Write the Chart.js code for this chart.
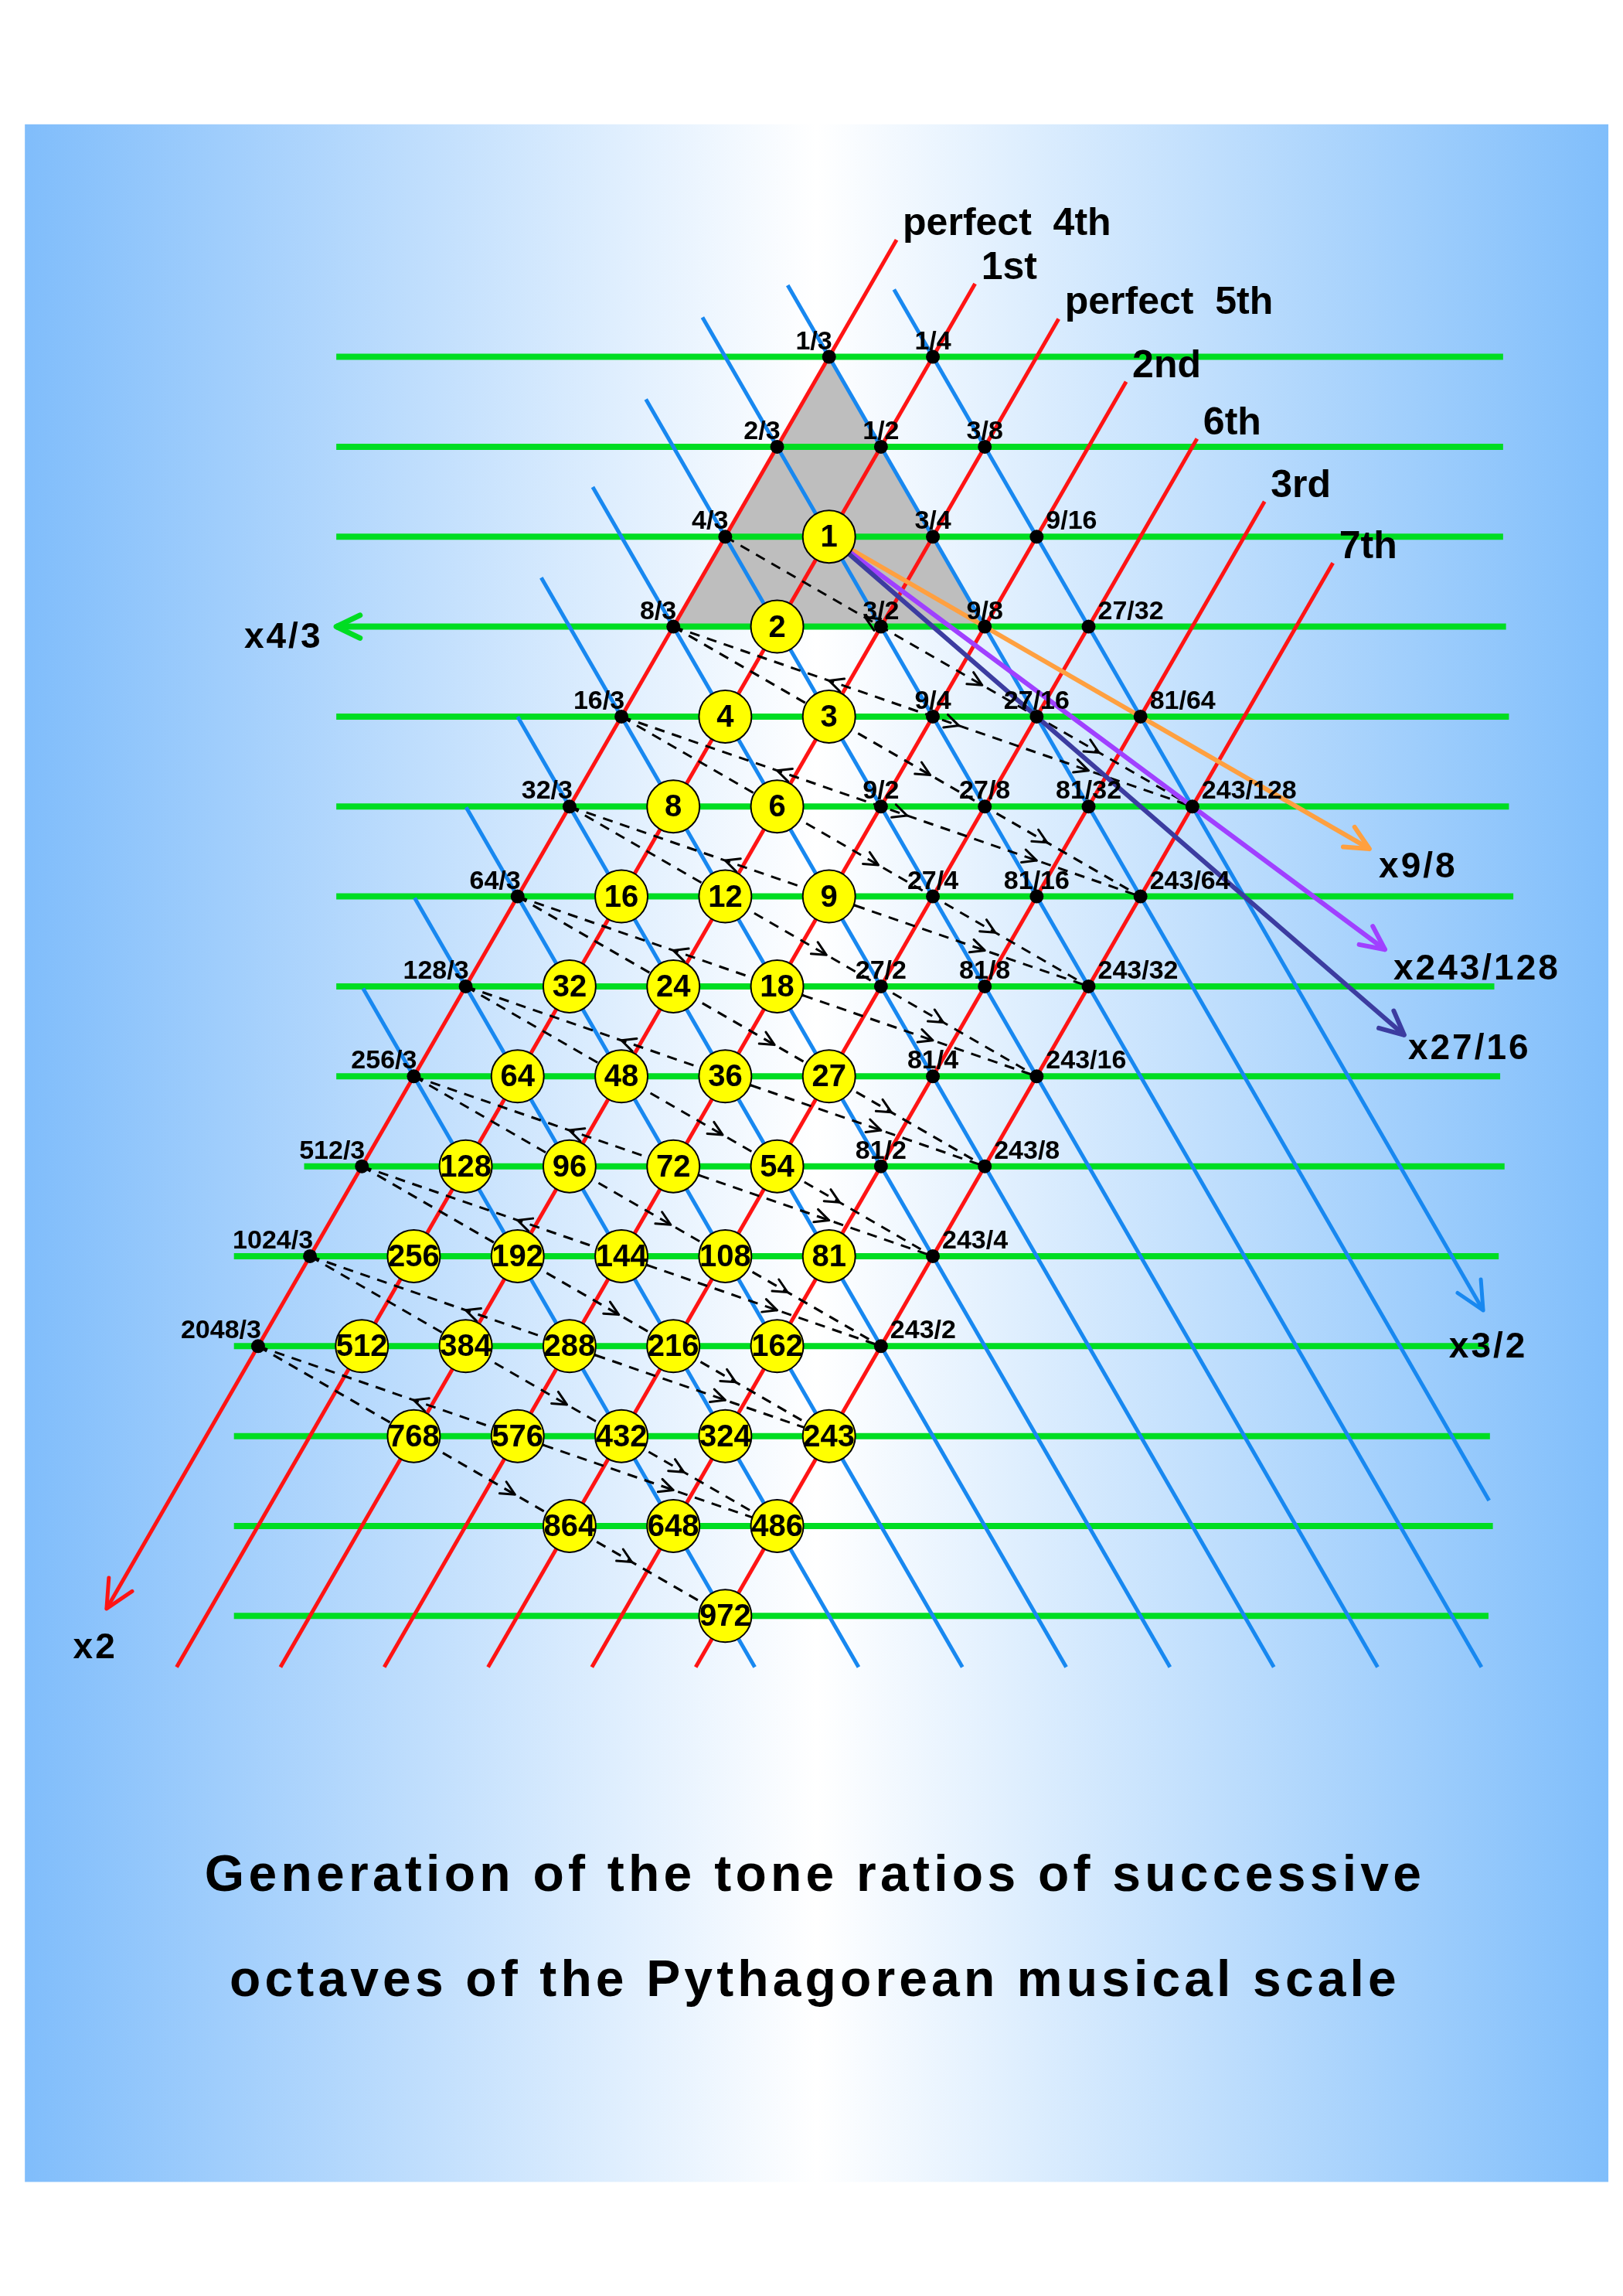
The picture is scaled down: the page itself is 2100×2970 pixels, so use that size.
<!DOCTYPE html>
<html><head><meta charset="utf-8">
<script src="https://cdn.jsdelivr.net/npm/chart.js@4.4.1/dist/chart.umd.min.js"></script>
<style>html,body{margin:0;padding:0;background:#fff}canvas{display:block}</style>
</head><body>
<canvas id="c" width="2100" height="2970"></canvas>
<script>
// ---------------- DATA ----------------
const fractionLabels = ['1/3','1/4','2/3','1/2','3/8','4/3','3/4','9/16','8/3','3/2','9/8','27/32',
  '16/3','9/4','27/16','81/64','32/3','9/2','27/8','81/32','243/128','64/3','27/4','81/16','243/64',
  '128/3','27/2','81/8','243/32','256/3','81/4','243/16','512/3','81/2','243/8','1024/3','243/4','2048/3','243/2'];
const circleValues = [1,2,4,3,8,6,16,12,9,32,24,18,64,48,36,27,128,96,72,54,256,192,144,108,81,
  512,384,288,216,162,768,576,432,324,243,864,648,486,972];
const intervalNames = ['perfect  4th','1st','perfect  5th','2nd','6th','3rd','7th']; // powers of 3/2: -1..5
const stepRatios = ['9/8','243/128','27/16'];
const stepLabels = ['x9/8','x243/128','x27/16'];
const axisLabels = ['x2','x4/3','x3/2'];
const titleLines = ['Generation of the tone ratios of successive','octaves of the Pythagorean musical scale'];

// ---------------- LAYOUT (drawing units 1110 x 1570) ----------------
const X0=567, Y0=367, W=35.5, H=61.5;
const rowLeft = [230,230,230,230,230,230,230,230,230,208,160,160,160,160,160];
const rowRight= [1028,1028,1028,1030,1032,1032,1035,1022,1026,1029,1025,1018,1019,1021,1018];
const redTopY = [164,194,218,261,300,343,385];
const blueTopY = {'-2':198,'-1':195,'0':217,'1':273,'2':333,'3':395,'4':490,'5':552,'6':614,'7':676};
const stepColors = ['#ffa040','#a040ff','#3c3ca0'];
const stepExtend = [3.47,1.53,2.77];

function expOf(v){
  let p=0,q=0,n=v.n,d=v.d;
  while(n%2===0){n/=2;p++;} while(n%3===0){n/=3;q++;}
  while(d%2===0){d/=2;p--;} while(d%3===0){d/=3;q--;}
  return {p,q};
}
function parseFrac(s){const [n,d]=String(s).split('/').map(Number);return {n,d:d||1};}
function pos(p,q){return {x:X0-W*p, y:Y0+H*(p+2*q)};}
function redX(b,y){return X0+W*(2*b-(y-Y0)/H);}
function blueX(a,y){return X0+W*((y-Y0)/H-2*a);}

const datasets=[];
function addLine(pts,color,width,extra){datasets.push(Object.assign({type:'scatter',data:pts,showLine:true,borderColor:color,borderWidth:width,pointRadius:0,fill:false,tension:0,clip:false},extra||{}));}

{const a=pos(0,-1),b=pos(3,-1),c=pos(-3,2);
 addLine([a,b,c,a],'#bebebe',1,{fill:'shape',backgroundColor:'#bebebe'});}
for(let n=-2;n<=12;n++){const y=Y0+H*n;addLine([{x:rowLeft[n+2],y},{x:rowRight[n+2],y}],'#00dd22',8);}
for(let b=-1;b<=5;b++){const yt=redTopY[b+1],yb=(b===-1?1100:1140);
  addLine([{x:redX(b,yt),y:yt},{x:redX(b,yb),y:yb}],'#ff1414',5);}
for(let a=-2;a<=7;a++){const yt=blueTopY[a],yb=(a===-2?896:a===-1?1026:1140);
  addLine([{x:blueX(a,yt),y:yt},{x:blueX(a,yb),y:yb}],'#1888f0',5);}
const dashed=[];
for(let p=2;p<=11;p++){dashed.push([pos(p,-1),pos(p-9,5)]);}
for(let p=3;p<=11;p++){dashed.push([pos(p,-1),pos(p-10,5)]);}
dashed.forEach(s=>addLine(s,'#000',3,{borderDash:[13,10]}));
const nLinesBeforeArrows=datasets.length;
const one=pos(0,0);const stepTips=[];
stepRatios.forEach((r,i)=>{const e=expOf(parseFrac(r));const t=pos(e.p,e.q);
  const tip={x:one.x+stepExtend[i]*(t.x-one.x),y:one.y+stepExtend[i]*(t.y-one.y)};stepTips.push(tip);
  addLine([one,tip],stepColors[i],6);});
const fracPts=fractionLabels.map(s=>{const e=expOf(parseFrac(s));return Object.assign(pos(e.p,e.q),{lab:s,p:e.p,q:e.q});});
datasets.push({type:'scatter',data:fracPts,pointRadius:9,pointBackgroundColor:'#000',pointBorderWidth:0,clip:false});
const circPts=circleValues.map(v=>{const e=expOf({n:v,d:1});return Object.assign(pos(e.p,e.q),{lab:String(v)});});
datasets.push({type:'scatter',data:circPts,pointRadius:34,pointBackgroundColor:'#ffff00',pointBorderColor:'#000',pointBorderWidth:2,clip:false});
datasets.forEach((d,i)=>d.order=datasets.length-i);
const dashedLastIndex=nLinesBeforeArrows-1;

function arrowHead(ctx,tx,ty,dx,dy,len,col,lw){
  const L=Math.hypot(dx,dy),ux=dx/L,uy=dy/L,ang=0.45;
  ctx.save();ctx.strokeStyle=col;ctx.lineWidth=lw;ctx.lineCap='round';ctx.beginPath();
  for(const s of [1,-1]){const c=Math.cos(ang),sn=Math.sin(ang)*s;
    const bx=-(ux*c-uy*sn),by=-(ux*sn+uy*c);ctx.moveTo(tx+bx*len,ty+by*len);ctx.lineTo(tx,ty);}
  ctx.stroke();ctx.restore();
}

const plugin={id:'deco',
 beforeDatasetsDraw(chart){const ctx=chart.ctx,X=chart.scales.x,Y=chart.scales.y;
   const x1=X.getPixelForValue(17),x2=X.getPixelForValue(1100),y1=Y.getPixelForValue(85),y2=Y.getPixelForValue(1492);
   const g=ctx.createLinearGradient(x1,0,x2,0);g.addColorStop(0,'#80bdfb');g.addColorStop(0.5,'#ffffff');g.addColorStop(1,'#80befb');
   ctx.save();ctx.fillStyle=g;ctx.fillRect(x1,y1,x2-x1,y2-y1);ctx.restore();},
 afterDatasetDraw(chart,args){
   if(args.index!==dashedLastIndex)return;
   const ctx=chart.ctx,X=chart.scales.x,Y=chart.scales.y,px=v=>X.getPixelForValue(v),py=v=>Y.getPixelForValue(v);
   dashed.forEach(([a,b])=>{const dx=px(b.x)-px(a.x),dy=py(b.y)-py(a.y);
     [[0.3,-1],[0.55,1],[0.8,1]].forEach(([t,dir])=>{arrowHead(ctx,px(a.x)+dx*t,py(a.y)+dy*t,dx*dir,dy*dir,20,'#000',3);});});
 },
 afterDatasetsDraw(chart){const ctx=chart.ctx,X=chart.scales.x,Y=chart.scales.y;
   const px=v=>X.getPixelForValue(v),py=v=>Y.getPixelForValue(v);
   stepTips.forEach((t,i)=>arrowHead(ctx,px(t.x),py(t.y),px(t.x)-px(one.x),py(t.y)-py(one.y),34,stepColors[i],6));
   {const b=-1;arrowHead(ctx,px(redX(b,1100)),py(1100),px(redX(b,1100))-px(redX(b,900)),py(1100)-py(900),40,'#ff1414',5);}
   arrowHead(ctx,px(blueX(-2,896)),py(896),px(blueX(-2,896))-px(blueX(-2,700)),py(896)-py(700),40,'#1888f0',5);
   arrowHead(ctx,px(230),py(Y0+H),-1,0,34,'#00dd22',7);
   ctx.save();ctx.fillStyle='#000';
   ctx.font='bold 34px "Liberation Sans", Arial, sans-serif';ctx.textBaseline='alphabetic';
   fracPts.forEach(f=>{const a=f.p+f.q;let al='center',ox=0;
     if(f.q===-1){al='right';ox=4;}else if(f.q===5||(a===-2&&f.q>=2)){al='left';ox=12;}
     ctx.textAlign=al;ctx.fillText(f.lab,px(f.x)+ox,py(f.y)-10);});
   ctx.font='bold 40px "Liberation Sans", Arial, sans-serif';ctx.textAlign='center';ctx.textBaseline='middle';
   circPts.forEach(c=>ctx.fillText(c.lab,px(c.x),py(c.y)+2));
   ctx.font='bold 50px "Liberation Sans", Arial, sans-serif';ctx.textAlign='left';ctx.textBaseline='alphabetic';
   intervalNames.forEach((s,i)=>{const b=i-1,yt=redTopY[i];ctx.fillText(s,px(redX(b,yt))+8,py(yt)-6);});
   ctx.font='bold 46px "Liberation Sans", Arial, sans-serif';ctx.letterSpacing='3px';
   const stepLabPos=[[943,600],[953,670],[963,724]];
   stepLabels.forEach((s,i)=>ctx.fillText(s,px(stepLabPos[i][0]),py(stepLabPos[i][1])));
   const axPos=[[50,1134],[167,443],[991,928]];
   axisLabels.forEach((s,i)=>ctx.fillText(s,px(axPos[i][0]),py(axPos[i][1])));
   ctx.font='bold 66px "Liberation Sans", Arial, sans-serif';ctx.textAlign='left';
   const tw=[[140,972,1293],[157,955,1365]];
   titleLines.forEach((s,i)=>{ctx.letterSpacing='0px';const w0=ctx.measureText(s).width;
     const target=px(tw[i][1])-px(tw[i][0]);const sp=(target-w0)/(s.length-1);
     ctx.letterSpacing=sp+'px';ctx.fillText(s,px(tw[i][0]),py(tw[i][2]));});
   ctx.restore();}
};

new Chart(document.getElementById('c'),{
 data:{datasets},
 options:{responsive:false,animation:false,devicePixelRatio:1,
  layout:{padding:0,autoPadding:false},
  plugins:{legend:{display:false},tooltip:{enabled:false}},
  scales:{x:{type:'linear',min:0,max:1110,display:false},y:{type:'linear',min:0,max:1570,reverse:true,display:false}}},
 plugins:[plugin]});
</script></body></html>
